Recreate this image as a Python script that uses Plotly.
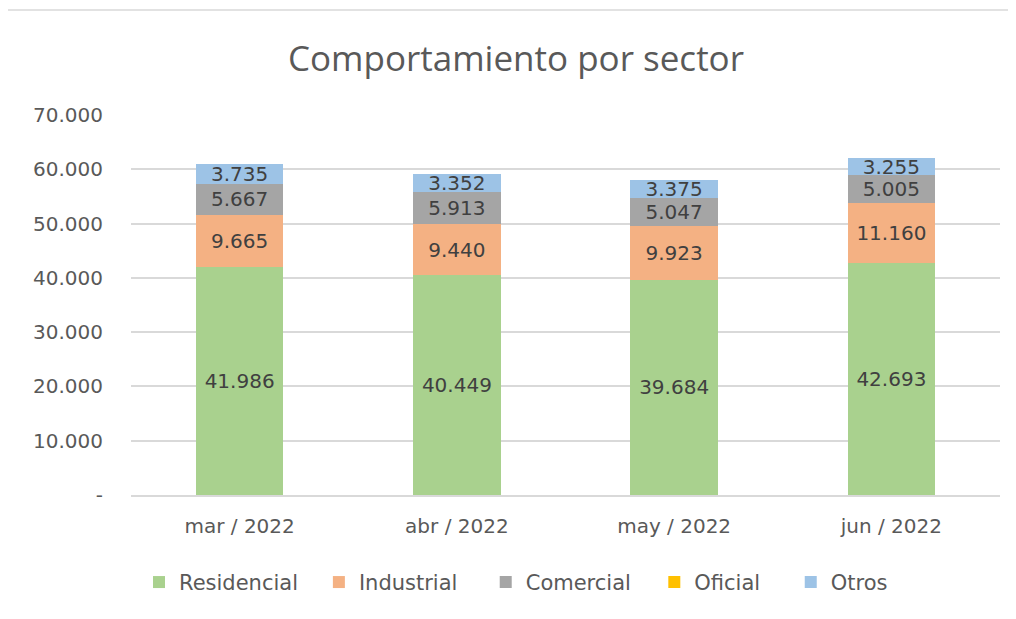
import plotly.graph_objects as go

categories = ["mar / 2022", "abr / 2022", "may / 2022", "jun / 2022"]
residencial = [41986, 40449, 39684, 42693]
industrial = [9665, 9440, 9923, 11160]
comercial = [5667, 5913, 5047, 5005]
oficial = [0, 0, 0, 0]
otros = [3735, 3352, 3375, 3255]

tick_vals = [0, 10000, 20000, 30000, 40000, 50000, 60000, 70000]
tick_text = ["-", "10.000", "20.000", "30.000", "40.000", "50.000", "60.000", "70.000"]

series = [
    ("Residencial", residencial, "#A9D18E"),
    ("Industrial", industrial, "#F4B183"),
    ("Comercial", comercial, "#A5A5A5"),
    ("Oficial", oficial, "#FFC000"),
    ("Otros", otros, "#9DC3E6"),
]

# legend entry positions (paper fraction of plot width)
legend_x = [0.0092, 0.2162, 0.4082, 0.6022, 0.7592]
legend_ids = ["legend", "legend2", "legend3", "legend4", "legend5"]

def fmt(v):
    return f"{v:,}".replace(",", ".")

FONT = "DejaVu Sans"

fig = go.Figure()
for (name, vals, color), lid in zip(series, legend_ids):
    fig.add_trace(go.Bar(
        name=name, x=categories, y=vals, legend=lid,
        marker=dict(color=color, line=dict(width=0)),
        text=[fmt(v) if v else "" for v in vals],
        textposition="inside", insidetextanchor="middle",
        textangle=0, constraintext="none",
        textfont=dict(family=FONT, size=20, color="#404040"),
        cliponaxis=False,
    ))

legend_common = dict(orientation="h", xanchor="left", y=-0.23, yanchor="middle",
                     font=dict(family=FONT, size=21, color="#595959"),
                     itemwidth=30, bgcolor="rgba(0,0,0,0)")
layout_legends = {lid: dict(legend_common, x=lx) for lid, lx in zip(legend_ids, legend_x)}

fig.update_layout(
    barmode="stack",
    bargap=0.597,
    width=1016, height=619,
    margin=dict(l=123, r=24, t=107, b=132),
    paper_bgcolor="white", plot_bgcolor="white",
    uniformtext=dict(mode=False),
    title=dict(text="Comportamiento por sector", x=0.5, xref="container", xanchor="center",
               y=0.918, yref="container", yanchor="middle",
               font=dict(family="Open Sans", size=35, color="#595959")),
    showlegend=True,
    xaxis=dict(tickfont=dict(family=FONT, size=20, color="#595959"),
               showline=True, linecolor="#D9D9D9", linewidth=1.5, ticks="",
               ticklabelstandoff=12),
    yaxis=dict(range=[0, 70000], tickvals=tick_vals, ticktext=tick_text,
               tickfont=dict(family=FONT, size=20, color="#595959"),
               showgrid=True, gridcolor="#D9D9D9", gridwidth=1.5,
               zeroline=False, ticks="", ticklabelstandoff=27),
    **layout_legends,
)

fig.add_shape(type="line", xref="paper", yref="paper",
              x0=-0.1427, x1=1.03, y0=1.276, y1=1.276,
              line=dict(color="#D9D9D9", width=1.5))
fig.add_shape(type="line", xref="paper", yref="paper",
              x0=-0.1427, x1=-0.1427, y0=1.276, y1=-0.33,
              line=dict(color="#D9D9D9", width=1.5))

fig.write_html("out.html")
